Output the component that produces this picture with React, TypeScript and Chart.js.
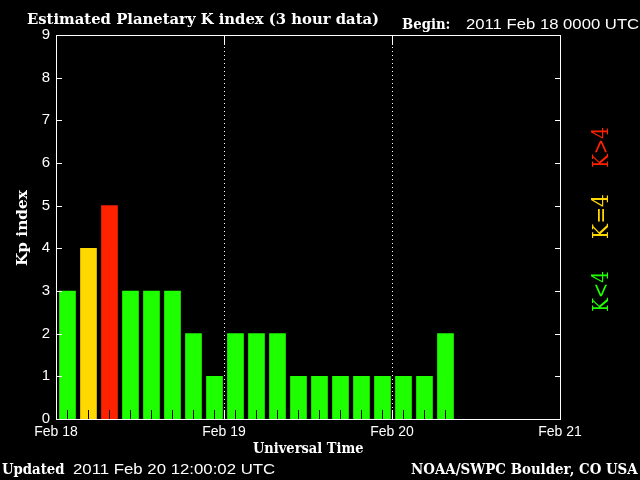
import React, { useEffect, useRef } from "react";
import { Chart, registerables } from "chart.js";

Chart.register(...registerables);

// ---- data ----
const slotStartHours = [0, 3, 6, 9, 12, 15, 18, 21, 24, 27, 30, 33, 36, 39, 42, 45, 48, 51, 54];
const kpValues = [3, 4, 5, 3, 3, 3, 2, 1, 2, 2, 2, 1, 1, 1, 1, 1, 1, 1, 2];
const dayHours = [0, 24, 48, 72];
const dayLabels = ["Feb 18", "Feb 19", "Feb 20", "Feb 21"];
const kpTicks = [0, 1, 2, 3, 4, 5, 6, 7, 8, 9];
const dividerHours = [24, 48];
const legendLabels = ["K<4", "K=4", "K>4"];

const titleText = "Estimated Planetary K index (3 hour data)";
const beginLabel = "Begin:";
const beginValue = "2011 Feb 18 0000 UTC";
const updatedLabel = "Updated";
const updatedValue = "2011 Feb 20 12:00:02 UTC";
const creditText = "NOAA/SWPC Boulder, CO USA";
const xTitle = "Universal Time";
const yTitle = "Kp index";

// ---- style ----
const GREEN = "#1eff00";
const YELLOW = "#ffd800";
const RED = "#ff2200";
const BAR_OFFSET_HOURS = 1.64;
const SERIF = "'DejaVu Serif', serif";
const SANS = "'Liberation Sans', Arial, sans-serif";

const colorFor = (v: number) => (v < 4 ? GREEN : v === 4 ? YELLOW : RED);

function drawFitted(
  ctx: CanvasRenderingContext2D,
  str: string,
  x: number,
  y: number,
  font: string,
  color: string,
  width: number,
  rotate = false
) {
  ctx.save();
  ctx.font = font;
  ctx.fillStyle = color;
  ctx.textAlign = "left";
  ctx.textBaseline = "alphabetic";
  const m = ctx.measureText(str);
  const inkW = m.actualBoundingBoxRight + m.actualBoundingBoxLeft;
  const s = width / inkW;
  ctx.translate(x, y);
  if (rotate) ctx.rotate(-Math.PI / 2);
  ctx.scale(s, 1);
  ctx.fillText(str, m.actualBoundingBoxLeft, 0);
  ctx.restore();
}

const decorPlugin = {
  id: "decor",
  beforeDraw(chart: any) {
    const ctx = chart.ctx;
    ctx.save();
    ctx.fillStyle = "#000";
    ctx.fillRect(0, 0, chart.width, chart.height);
    ctx.restore();
  },
  afterDraw(chart: any) {
    const ctx: CanvasRenderingContext2D = chart.ctx;
    const { left, right, top, bottom } = chart.chartArea;
    const xs = chart.scales.x;
    const ys = chart.scales.y;
    ctx.save();
    ctx.lineWidth = 1;

    // black minor ticks inside bars
    const meta = chart.getDatasetMeta(0);
    ctx.strokeStyle = "#000";
    ctx.beginPath();
    meta.data.forEach((el: any) => {
      const px = Math.floor(el.x) + 0.5;
      ctx.moveTo(px, bottom - 9);
      ctx.lineTo(px, bottom);
    });
    ctx.stroke();

    // frame
    ctx.strokeStyle = "#fff";
    ctx.strokeRect(left + 0.5, top + 0.5, right - left, bottom - top);

    // inward y ticks
    ctx.beginPath();
    kpTicks.forEach((v) => {
      const py = Math.round(ys.getPixelForValue(v)) + 0.5;
      ctx.moveTo(left, py);
      ctx.lineTo(left + 6, py);
      ctx.moveTo(right + 1, py);
      ctx.lineTo(right - 5, py);
    });
    ctx.stroke();

    // day dividers
    dividerHours.forEach((h) => {
      const px = Math.floor(xs.getPixelForValue(h)) + 0.5;
      ctx.setLineDash([]);
      ctx.beginPath();
      ctx.moveTo(px, top);
      ctx.lineTo(px, top + 10);
      ctx.moveTo(px, bottom - 9);
      ctx.lineTo(px, bottom);
      ctx.stroke();
      ctx.setLineDash([1, 3]);
      ctx.beginPath();
      ctx.moveTo(px, top + 12);
      ctx.lineTo(px, bottom - 10);
      ctx.stroke();
    });
    ctx.setLineDash([]);
    ctx.restore();

    const serifB = `bold 15px ${SERIF}`;
    const sans = `14px ${SANS}`;
    drawFitted(ctx, titleText, 27, 24, serifB, "#fff", 351);
    drawFitted(ctx, beginLabel, 402, 29, serifB, "#fff", 48);
    drawFitted(ctx, beginValue, 466, 29, sans, "#fff", 173);
    drawFitted(ctx, xTitle, 253, 453, serifB, "#fff", 110);
    drawFitted(ctx, updatedLabel, 2, 474, serifB, "#fff", 63);
    drawFitted(ctx, updatedValue, 73, 474, sans, "#fff", 202);
    drawFitted(ctx, creditText, 411, 474, serifB, "#fff", 227);
    drawFitted(ctx, yTitle, 27, 266, serifB, "#fff", 77, true);

    const legFont = `22px ${SERIF}`;
    drawFitted(ctx, legendLabels[0], 608, 311, legFont, GREEN, 39, true);
    drawFitted(ctx, legendLabels[1], 608, 238, legFont, YELLOW, 43, true);
    drawFitted(ctx, legendLabels[2], 608, 167, legFont, RED, 39, true);
  },
};

export default function App() {
  const ref = useRef<HTMLCanvasElement | null>(null);
  useEffect(() => {
    if (!ref.current) return;
    const chart = new Chart(ref.current, {
      type: "bar",
      data: {
        datasets: [
          {
            data: slotStartHours.map((h, i) => ({ x: h + BAR_OFFSET_HOURS, y: kpValues[i] })),
            backgroundColor: kpValues.map(colorFor),
            borderWidth: 0,
            barThickness: 16,
          },
        ],
      },
      options: {
        responsive: false,
        maintainAspectRatio: false,
        animation: false,
        layout: { padding: { top: 35, right: 80, left: 0, bottom: 0 } },
        plugins: { legend: { display: false }, tooltip: { enabled: false } },
        scales: {
          x: {
            type: "linear",
            min: 0,
            max: 72,
            offset: false,
            afterBuildTicks: (s: any) => {
              s.ticks = dayHours.map((v) => ({ value: v }));
            },
            ticks: {
              callback: (v: any) => dayLabels[dayHours.indexOf(Number(v))],
              color: "#fff",
              font: { family: SANS, size: 14 },
              padding: 5,
              maxRotation: 0,
              autoSkip: false,
            },
            grid: { display: false, drawTicks: false, offset: false },
            border: { display: false },
            afterFit: (s: any) => {
              s.height = 61;
            },
          },
          y: {
            min: 0,
            max: 9,
            afterBuildTicks: (s: any) => {
              s.ticks = kpTicks.map((v) => ({ value: v }));
            },
            ticks: {
              color: "#fff",
              font: { family: SANS, size: 15 },
              padding: 6,
            },
            grid: { display: false, drawTicks: false },
            border: { display: false },
            afterFit: (s: any) => {
              s.width = 56;
            },
          },
        },
      },
      plugins: [decorPlugin],
    } as any);
    return () => chart.destroy();
  }, []);
  return (
    <div style={{ position: "absolute", left: 0, top: 0, width: 640, height: 480, background: "#000" }}>
      <canvas ref={ref} width={640} height={480} style={{ display: "block" }} />
    </div>
  );
}
